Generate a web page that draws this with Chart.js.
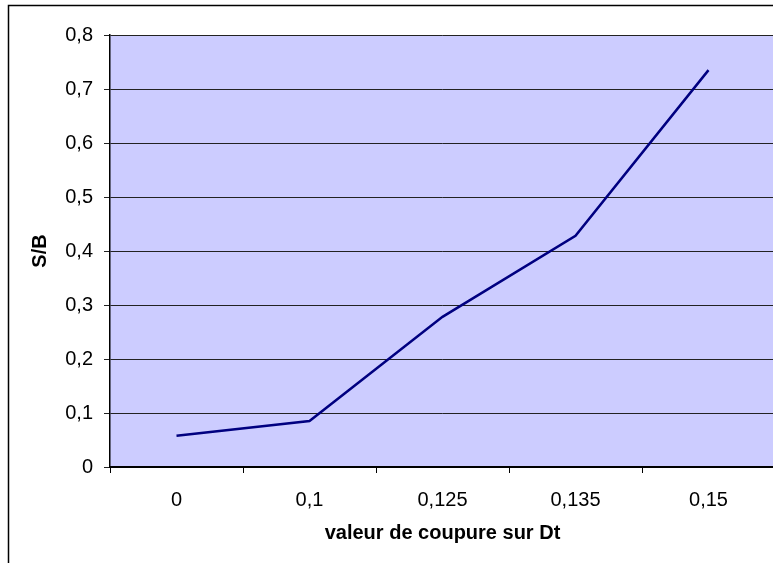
<!DOCTYPE html>
<html>
<head>
<meta charset="utf-8">
<script src="https://cdn.jsdelivr.net/npm/chart.js@4/dist/chart.umd.min.js"></script>
<style>
  html, body { margin: 0; padding: 0; background: #fff; overflow: hidden; }
  #wrap { width: 773px; height: 563px; overflow: hidden; }
  canvas { display: block; }
</style>
</head>
<body>
<div id="wrap"><canvas id="c" width="790" height="580"></canvas></div>
<script>
// S/B en fonction de la coupure sur Dt
const cuts = ['0', '0,1', '0,125', '0,135', '0,15'];
const sb = [0.058, 0.085, 0.278, 0.428, 0.735];
const yTicks = [0, 0.1, 0.2, 0.3, 0.4, 0.5, 0.6, 0.7, 0.8];

const FONT = "'Liberation Sans', Arial, sans-serif";

// white page, outer frame and lavender plot area
const frame = {
  id: 'frame',
  beforeDraw(chart) {
    const ctx = chart.ctx, a = chart.chartArea;
    ctx.save();
    ctx.fillStyle = '#fff';
    ctx.fillRect(0, 0, chart.width, chart.height);
    ctx.strokeStyle = '#000';
    ctx.lineWidth = 1.5;
    ctx.strokeRect(8.5, 5.5, chart.width + 20, chart.height + 20);
    ctx.fillStyle = '#CCCCFF';
    ctx.fillRect(a.left, a.top, a.right - a.left, a.bottom - a.top);
    ctx.restore();
  }
};

new Chart(document.getElementById('c'), {
  type: 'line',
  data: {
    labels: cuts,
    datasets: [{
      data: sb,
      borderColor: '#000080',
      borderWidth: 2.5,
      pointRadius: 0,
      tension: 0,
      fill: false
    }]
  },
  options: {
    responsive: false,
    animation: false,
    devicePixelRatio: 1,
    layout: { padding: { left: 0, top: 35, right: 15, bottom: 0 } },
    plugins: { legend: { display: false }, tooltip: { enabled: false } },
    scales: {
      x: {
        offset: true,
        afterFit(s) { s.height = 113; },
        grid: { offset: true, drawOnChartArea: false, drawTicks: true, tickLength: 6, color: '#000', lineWidth: 1 },
        border: { display: true, color: '#000', width: 2 },
        ticks: { color: '#000', padding: 15, font: { family: FONT, size: 20 }, maxRotation: 0 },
        title: {
          display: true,
          text: 'valeur de coupure sur Dt',
          color: '#000',
          font: { family: FONT, size: 20, weight: 'bold' },
          padding: { top: 0, bottom: 35 }
        }
      },
      y: {
        min: 0,
        max: 0.8,
        afterFit(s) { s.width = 110; },
        afterBuildTicks(s) { s.ticks = yTicks.map(v => ({ value: v })); },
        grid: { color: '#222', lineWidth: 1, tickLength: 6, drawTicks: true },
        border: { display: true, color: '#000', width: 1.5 },
        ticks: {
          color: '#000',
          padding: 11,
          font: { family: FONT, size: 20 },
          callback: v => v === 0 ? '0' : v.toFixed(1).replace('.', ',')
        },
        title: {
          display: true,
          text: 'S/B',
          color: '#000',
          font: { family: FONT, size: 20, weight: 'bold' },
          padding: { top: 28, bottom: 0 }
        }
      }
    }
  },
  plugins: [frame]
});
</script>
</body>
</html>
